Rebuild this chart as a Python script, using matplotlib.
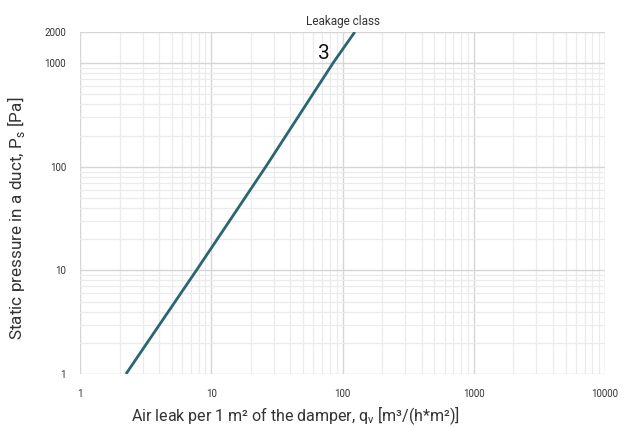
import matplotlib
matplotlib.use("Agg")
import matplotlib.pyplot as plt
from matplotlib.ticker import FixedLocator, LogLocator, NullFormatter

plt.rcParams["font.family"] = ["Roboto", "DejaVu Sans"]

# leakage class 3 curve
air_leak = [2.24, 7.7, 26.0, 84.5, 124.0]
pressure = [1, 10, 100, 1000, 2000]
x_ticks = [1, 10, 100, 1000, 10000]
y_ticks = [1, 10, 100, 1000, 2000]
class_label = "3"

fig = plt.figure(figsize=(6.26, 4.28), dpi=100, facecolor="white")
ax = fig.add_axes([0.1278, 0.1262, 0.8387, 0.7990])

ax.set_xscale("log")
ax.set_yscale("log")
ax.set_xlim(1, 10000)
ax.set_ylim(1, 2000)

ax.xaxis.set_major_locator(FixedLocator(x_ticks))
ax.yaxis.set_major_locator(FixedLocator(y_ticks))
ax.set_xticklabels([str(t) for t in x_ticks])
ax.set_yticklabels([str(t) for t in y_ticks])
ax.xaxis.set_minor_locator(LogLocator(base=10, subs=range(2, 10)))
ax.yaxis.set_minor_locator(LogLocator(base=10, subs=range(2, 10)))
ax.xaxis.set_minor_formatter(NullFormatter())
ax.yaxis.set_minor_formatter(NullFormatter())

ax.grid(which="major", color="#d6d6d6", linewidth=1.0)
ax.grid(which="minor", color="#ebebeb", linewidth=0.9)
ax.set_axisbelow(True)
for s in ax.spines.values():
    s.set_visible(False)
ax.tick_params(which="both", length=0, labelsize=7, colors="#333333")
ax.tick_params(axis="x", pad=11)
ax.tick_params(axis="y", pad=10)

ax.plot(air_leak, pressure, color="#2b6570", linewidth=2.0, solid_capstyle="butt")
ax.text(72, 1250, class_label, fontsize=15, color="#111111", ha="center", va="center")

ax.set_title("Leakage class", fontsize=8.5, color="#333333", pad=5)
fig.text(0.472, 0.028, "Air leak per 1 m² of the damper, q$_\\mathregular{v}$ [m³/(h*m²)]",
         fontsize=11.5, color="#333333", ha="center", va="center")
fig.text(0.026, 0.491, "Static pressure in a duct, P$_\\mathregular{s}$ [Pa]",
         fontsize=12.3, color="#333333", ha="center", va="center", rotation=90)

fig.savefig("out.png", dpi=100)
plt.close(fig)
